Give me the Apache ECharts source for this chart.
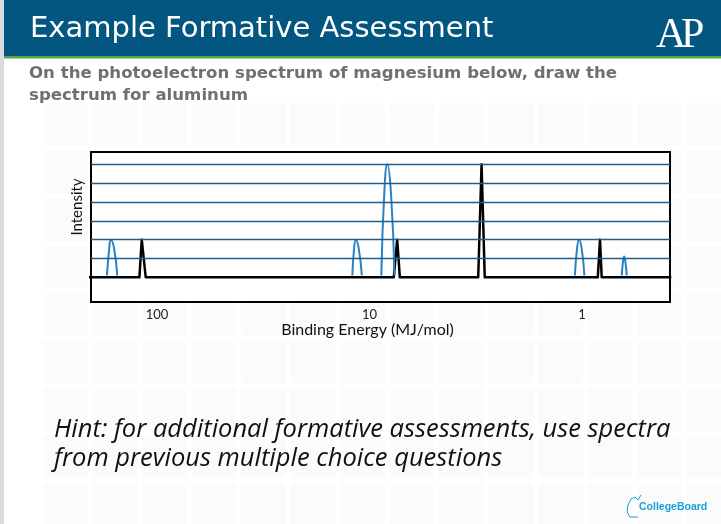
<!DOCTYPE html>
<html>
<head>
<meta charset="utf-8">
<script src="https://cdn.jsdelivr.net/npm/echarts@6/dist/echarts.min.js"></script>
<style>
  html, body { margin: 0; padding: 0; background: #ffffff; }
  #chart { width: 721px; height: 524px; }
</style>
</head>
<body>
<div id="chart"></div>
<script>
// ---- data ----
const xTickLabels = ['100', '10', '1'];
const gridLevels = [1, 2, 3, 4, 5, 6];

// Magnesium spectrum (black): binding energy (MJ/mol) and relative intensity
const mgEnergy    = [210, 121, 118, 113, 7.69, 7.41, 7.20, 3.08, 2.97, 2.87, 0.843, 0.823, 0.808, 0.38];
const mgIntensity = [0,   0,   2,   0,   0,    2,    0,    0,    6,    0,    0,     2,     0,     0];

// Aluminum peaks (blue), one list per peak
const alPeakEnergy = [
  [172, 168, 165, 159, 154],
  [12.05, 11.83, 11.6, 11.23, 10.87],
  [8.8, 8.52, 8.25, 7.93, 7.63],
  [1.08, 1.056, 1.033, 1.003, 0.975],
  [0.65, 0.642, 0.634, 0.625, 0.616]
];
const alPeakIntensity = [
  [0.1, 1.5, 2, 1.5, 0.1],
  [0.1, 1.5, 2, 1.5, 0.1],
  [0.1, 4.5, 6, 4.5, 0.1],
  [0.1, 1.5, 2, 1.5, 0.1],
  [0.1, 0.8, 1.1, 0.8, 0.1]
];

const titleText = 'Example Formative Assessment';
const subtitleText = 'On the photoelectron spectrum of magnesium below, draw the\nspectrum for aluminum';
const hintText = 'Hint: for additional formative assessments, use spectra\nfrom previous multiple choice questions';
const xAxisName = 'Binding Energy (MJ/mol)';
const yAxisName = 'Intensity';

// ---- chart ----
const chart = echarts.init(document.getElementById('chart'), null, { renderer: 'canvas' });

const zip = (xs, ys) => xs.map((x, i) => [x, ys[i]]);

const series = [
  {
    name: 'levels', type: 'line', data: [], z: 1, silent: true,
    markLine: {
      silent: true, symbol: ['none', 'none'], animation: false,
      label: { show: false },
      lineStyle: { color: '#1d5c8c', width: 1.3, type: 'solid' },
      data: gridLevels.map(v => ({ yAxis: v }))
    }
  },
  {
    name: 'Magnesium', type: 'line', z: 3,
    data: zip(mgEnergy, mgIntensity),
    showSymbol: false, symbol: 'none',
    lineStyle: { color: '#000000', width: 2.5, join: 'round' }
  }
];
alPeakEnergy.forEach((xs, i) => {
  series.push({
    name: 'Aluminum ' + (i + 1), type: 'line', z: 4,
    data: zip(xs, alPeakIntensity[i]),
    smooth: 0.5, showSymbol: false, symbol: 'none',
    lineStyle: { color: '#2a82c4', width: 2 }
  });
});

// faint slide background tiles (decoration only)
const tiles = [];
for (let cx = 43; cx < 700; cx += 49.5) {
  for (let cy = 103; cy < 490; cy += 47.5) {
    tiles.push({ type: 'rect', shape: { x: cx, y: cy, width: 45, height: 43, r: 4 }, style: { fill: '#fbfbfb' }, z: -20, silent: true });
  }
}

const option = {
  animation: false,
  backgroundColor: '#ffffff',
  title: [
    {
      text: titleText, left: 30, top: 15, padding: 0,
      textStyle: { color: '#ffffff', fontFamily: 'DejaVu Sans', fontSize: 29, fontWeight: 'normal' }
    },
    {
      text: subtitleText, left: 29, top: 63, padding: 0,
      textStyle: { color: '#707070', fontFamily: 'DejaVu Sans', fontSize: 16.6, fontWeight: 'bold', lineHeight: 22 }
    },
    {
      text: hintText, left: 54, top: 415, padding: 0,
      textStyle: { color: '#111111', fontFamily: 'Open Sans', fontSize: 25.5, fontStyle: 'italic', fontWeight: 'normal', lineHeight: 29 }
    }
  ],
  graphic: tiles.concat([
    { type: 'rect', shape: { x: 0, y: 0, width: 4, height: 524 }, style: { fill: '#dcdcdc' }, z: -10 },
    { type: 'rect', shape: { x: 4, y: 0, width: 717, height: 56 }, style: { fill: '#03567f' }, z: -10 },
    { type: 'rect', shape: { x: 4, y: 56, width: 717, height: 2.5 }, style: { fill: '#5aa645' }, z: -10 },
    { type: 'text', x: 656, y: 15, style: { text: 'A', fill: '#ffffff', font: '42px "Liberation Serif"' }, z: 10 },
    { type: 'text', x: 681, y: 15, style: { text: 'P', fill: '#ffffff', font: '42px "Liberation Serif"' }, z: 10 },
    { type: 'text', x: 639, y: 502, style: { text: 'CollegeBoard', fill: '#1aa0dc', font: 'bold 10.5px "Liberation Sans"' }, z: 10 },
    { type: 'polyline', shape: { points: [[638, 517], [630, 517], [627, 512], [628, 505], [631, 499], [635, 497], [638, 500], [641, 495]] },
      style: { fill: 'none', stroke: '#1aa0dc', lineWidth: 1 }, z: 10 }
  ]),
  grid: {
    left: 91, right: 51, top: 152, bottom: 222,
    show: true, borderColor: '#000000', borderWidth: 2, backgroundColor: '#ffffff'
  },
  xAxis: {
    type: 'log', logBase: 10, inverse: true, min: 0.3855, max: 204.5,
    axisLine: { show: false }, axisTick: { show: false }, splitLine: { show: false },
    axisLabel: {
      show: true, margin: 6, color: '#222222', fontFamily: 'Lato', fontSize: 13,
      showMinLabel: false, showMaxLabel: false,
      formatter: function (v) {
        const s = String(Math.round(v * 1000) / 1000);
        return xTickLabels.indexOf(s) >= 0 ? s : '';
      }
    },
    name: xAxisName, nameLocation: 'middle', nameGap: 15,
    nameTextStyle: { color: '#111111', fontFamily: 'Lato', fontSize: 16, padding: [0, 26, 0, 0] }
  },
  yAxis: {
    type: 'value', min: -1.31, max: 6.65,
    axisLine: { show: false }, axisTick: { show: false }, splitLine: { show: false },
    axisLabel: { show: false },
    name: yAxisName, nameLocation: 'middle', nameGap: 6,
    nameTextStyle: { color: '#111111', fontFamily: 'Lato', fontSize: 15, padding: [0, 0, 0, 40] }
  },
  series: series
};

chart.setOption(option);
</script>
</body>
</html>
